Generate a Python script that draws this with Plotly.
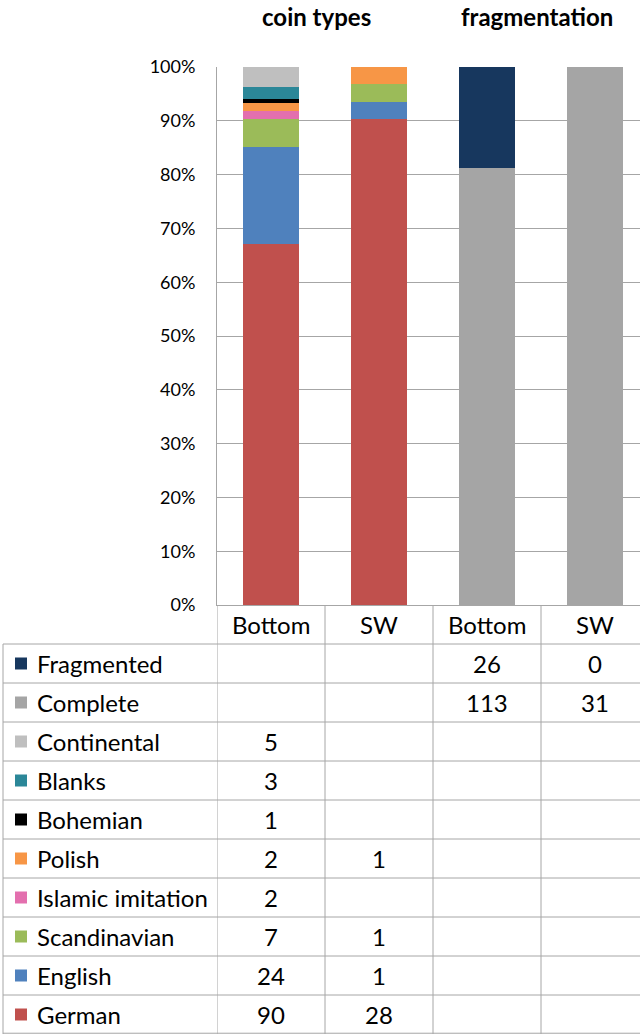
import plotly.graph_objects as go

# ---------------- data ----------------
columns = ["Bottom", "SW", "Bottom", "SW"]          # table header / bar positions
series = ["German", "English", "Scandinavian", "Islamic imitation", "Polish",
          "Bohemian", "Blanks", "Continental", "Complete", "Fragmented"]
values = {
    "German":            [90, 28, None, None],
    "English":           [24, 1, None, None],
    "Scandinavian":      [7, 1, None, None],
    "Islamic imitation": [2, None, None, None],
    "Polish":            [2, 1, None, None],
    "Bohemian":          [1, None, None, None],
    "Blanks":            [3, None, None, None],
    "Continental":       [5, None, None, None],
    "Complete":          [None, None, 113, 31],
    "Fragmented":        [None, None, 26, 0],
}
colors = {
    "German": "#C0504D", "English": "#4F81BD", "Scandinavian": "#9BBB59",
    "Islamic imitation": "#E36FAE", "Polish": "#F79646", "Bohemian": "#000000",
    "Blanks": "#2B8798", "Continental": "#BFBFBF", "Complete": "#A5A5A5",
    "Fragmented": "#17375E",
}
group_titles = ["coin types", "fragmentation"]
ytick_vals = list(range(0, 101, 10))

# ---------------- layout constants ----------------
W, H = 640, 1034
PLOT_L, PLOT_TOP, PLOT_BOT = 217, 67, 605
ROW_H = 39
N_ROWS = len(series) + 1
FONT = "Lato"
LINE = "#A6A6A6"

xpos = list(range(len(columns)))
fig = go.Figure()
for s in series:
    fig.add_trace(go.Bar(
        x=xpos, y=values[s], name=s, marker=dict(color=colors[s], line=dict(width=0)),
        xaxis="x", yaxis="y", showlegend=False, hoverinfo="skip"))

table_bottom = 0
table_top = (H - PLOT_BOT) / H
fig.update_layout(
    width=W, height=H, margin=dict(l=0, r=0, t=0, b=0, autoexpand=False),
    paper_bgcolor="white", plot_bgcolor="rgba(0,0,0,0)",
    barmode="stack", barnorm="percent", bargap=0.48,
    font=dict(family=FONT, color="#000000", size=24),
    xaxis=dict(domain=[PLOT_L / W, 1], range=[-0.5, -0.5 + (W - PLOT_L) / 108.0],
               showticklabels=False, showgrid=False, zeroline=False, automargin=False,
               showline=True, linecolor=LINE, linewidth=1, anchor="y", fixedrange=True),
    yaxis=dict(domain=[(H - PLOT_BOT) / H, (H - PLOT_TOP) / H], range=[0, 100],
               tickvals=ytick_vals, ticktext=[f"{v}%" for v in ytick_vals],
               tickfont=dict(size=18, family=FONT), ticks="", ticklabelstandoff=17,
               showgrid=True, gridcolor=LINE, gridwidth=1, zeroline=False,
               automargin=False,
               showline=True, linecolor=LINE, linewidth=1, anchor="x"),
    xaxis2=dict(domain=[0, 1], range=[0, W], visible=False, anchor="y2",
                automargin=False),
    yaxis2=dict(domain=[table_bottom, table_top], range=[N_ROWS, 0], visible=False,
                anchor="x2", automargin=False),
)

shapes = []
annotations = []
# vertical grid lines of the table (category boundaries)
for i in range(len(columns)):
    shapes.append(dict(type="line", xref="x", yref="y2", x0=i - 0.5, x1=i - 0.5,
                       y0=0, y1=N_ROWS, line=dict(color=LINE, width=1)))
# left border of label column
shapes.append(dict(type="line", xref="x2", yref="y2", x0=3, x1=3, y0=1, y1=N_ROWS,
                   line=dict(color=LINE, width=1)))
# horizontal lines
for r in range(1, N_ROWS + 1):
    yy = r if r < N_ROWS else N_ROWS - 0.02
    shapes.append(dict(type="line", xref="x2", yref="y2", x0=3, x1=W, y0=yy, y1=yy,
                       line=dict(color=LINE, width=1)))

# header
for i, c in enumerate(columns):
    annotations.append(dict(x=i, y=0.5, xref="x", yref="y2", text=c, showarrow=False,
                            xanchor="center", yanchor="middle"))

# rows (top row = last series)
row_series = list(reversed(series))
for r, s in enumerate(row_series, start=1):
    yc = r + 0.5
    shapes.append(dict(type="rect", xref="x2", yref="y2", x0=15, x1=27,
                       y0=yc - 6 / ROW_H, y1=yc + 6 / ROW_H,
                       fillcolor=colors[s], line=dict(width=0)))
    annotations.append(dict(x=35, y=yc, xref="x2", yref="y2", text=s, showarrow=False,
                            xanchor="left", yanchor="middle"))
    for i, v in enumerate(values[s]):
        if v is not None:
            annotations.append(dict(x=i, y=yc, xref="x", yref="y2", text=str(v),
                                    showarrow=False, xanchor="center", yanchor="middle"))

# group titles
for t, px in zip(group_titles, [316, 537]):
    annotations.append(dict(x=px / W, y=1 - 16 / H, xref="paper", yref="paper",
                            text=f"<b>{t}</b>", showarrow=False, xanchor="center",
                            yanchor="middle", font=dict(size=24, family=FONT)))

fig.update_layout(shapes=shapes, annotations=annotations)
fig.write_html("out.html", config={"displayModeBar": False},
               post_script="document.body.style.margin='0px';")
